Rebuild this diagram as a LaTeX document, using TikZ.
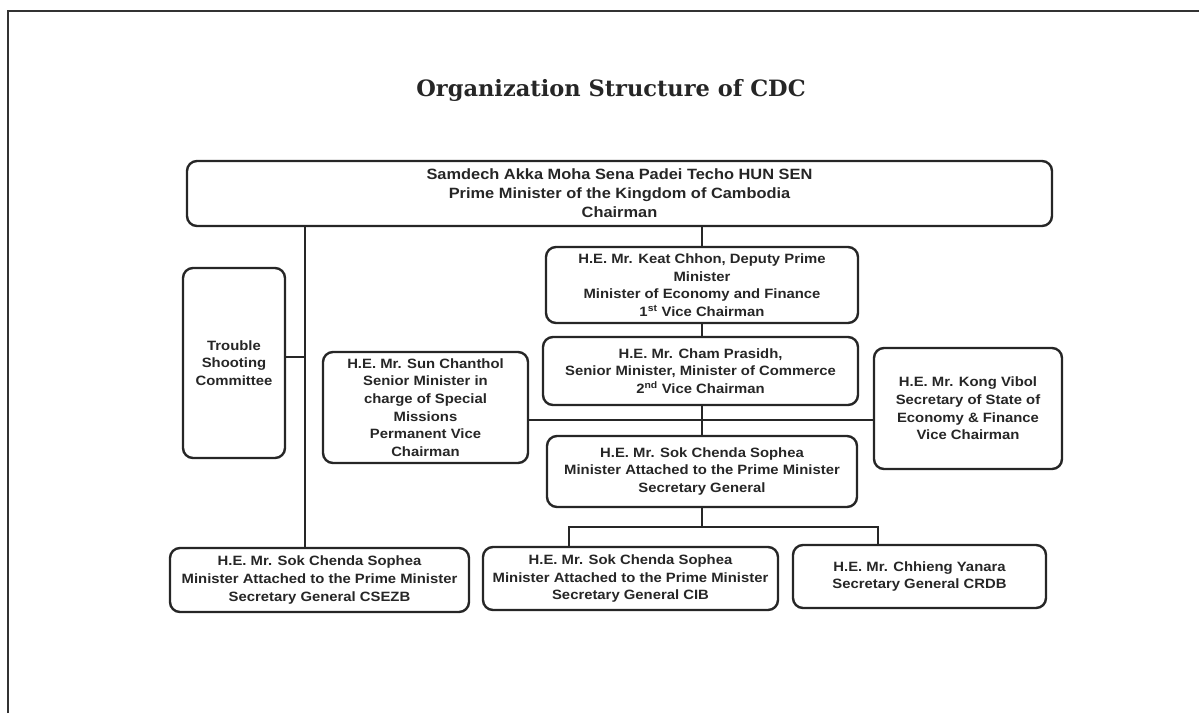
\documentclass[tikz,border=0pt]{standalone}
\usepackage{fontspec}
\newfontfamily\boxfont{Liberation Sans}[FakeStretch=1.1]
\newfontfamily\titlefont{DejaVu Serif}
\begin{document}
\begin{tikzpicture}[x=1pt,y=-1pt,
  ln/.style={line width=2.4pt,draw=black!85},
  bx/.style={draw=black!85,line width=2.4pt,rounded corners=10pt,align=center,
    inner sep=0pt,font=\boxfont\bfseries\fontsize{13.5}{17.6}\selectfont,text=black!85},
]
\useasboundingbox (0,0) rectangle (1199,713);
% outer frame
\draw[line width=2.6pt,draw=black!80] (8,713) -- (8,11) -- (1199,11);
% title
\node[font=\titlefont\bfseries\fontsize{22.5}{27}\selectfont,text=black!85] (title) at (611,90) {Organization Structure of CDC};
% boxes
\node[bx,minimum width=865pt,minimum height=65pt,font=\boxfont\bfseries\fontsize{14.9}{19}\selectfont] (top) at (619.5,193.5)
  {Samdech Akka Moha Sena Padei Techo HUN SEN\\Prime Minister of the Kingdom of Cambodia\\Chairman};
\node[bx,minimum width=102pt,minimum height=190pt] (trouble) at (234,363)
  {Trouble\\Shooting\\Committee};
\node[bx,minimum width=205pt,minimum height=111pt] (sun) at (425.5,407.5)
  {H.E. Mr. Sun Chanthol\\Senior Minister in\\charge of Special\\Missions\\Permanent Vice\\Chairman};
\node[bx,minimum width=312pt,minimum height=76pt] (keat) at (702,285)
  {H.E. Mr. Keat Chhon, Deputy Prime\\Minister\\Minister of Economy and Finance\\1\textsuperscript{st} Vice Chairman};
\node[bx,minimum width=315pt,minimum height=68pt] (cham) at (700.5,371)
  {H.E. Mr. Cham Prasidh,\\Senior Minister, Minister of Commerce\\2\textsuperscript{nd} Vice Chairman};
\node[bx,minimum width=310pt,minimum height=71pt] (sok) at (702,471.5)
  {H.E. Mr. Sok Chenda Sophea\\Minister Attached to the Prime Minister\\Secretary General};
\node[bx,minimum width=188pt,minimum height=121pt] (kong) at (968,408.5)
  {H.E. Mr. Kong Vibol\\Secretary of State of\\Economy \& Finance\\Vice Chairman};
\node[bx,minimum width=299pt,minimum height=64pt] (csezb) at (319.5,580)
  {H.E. Mr. Sok Chenda Sophea\\Minister Attached to the Prime Minister\\Secretary General CSEZB};
\node[bx,minimum width=295pt,minimum height=63pt] (cib) at (630.5,578.5)
  {H.E. Mr. Sok Chenda Sophea\\Minister Attached to the Prime Minister\\Secretary General CIB};
\node[bx,minimum width=253pt,minimum height=63pt] (crdb) at (919.5,576.5)
  {H.E. Mr. Chhieng Yanara\\Secretary General CRDB};
% helper coordinates
\coordinate (spine) at (305,0);
\coordinate (midrow) at (0,420);
\coordinate (branch) at (0,527);
\coordinate (cibx) at (569,0);
\coordinate (crdbx) at (878,0);
% connectors
\draw[ln] (top.south -| spine) -- (csezb.north -| spine);
\draw[ln] ([yshift=6pt]trouble.east) -- ([yshift=6pt]trouble.east -| spine);
\draw[ln] (top.south -| keat.north) -- (keat.north);
\draw[ln] (keat.south) -- (cham.north -| keat.south);
\draw[ln] (sun.east |- midrow) -- (kong.west |- midrow);
\draw[ln] (cham.south -| sok.north) -- (sok.north);
\draw[ln] (sok.south) -- (sok.south |- branch);
\draw[ln] (cib.north -| cibx) -- (branch -| cibx) -- (branch -| crdbx) -- (crdb.north -| crdbx);
\end{tikzpicture}
\end{document}
